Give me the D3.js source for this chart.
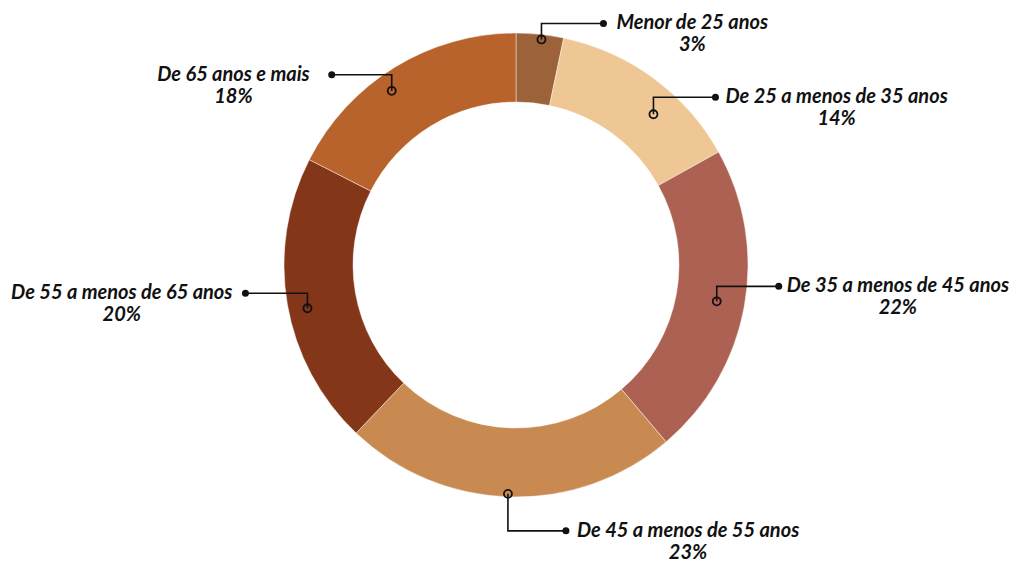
<!DOCTYPE html>
<html>
<head>
<meta charset="utf-8">
<script src="https://cdn.jsdelivr.net/npm/d3@7"></script>
<style>
  body { margin: 0; background: #fff; }
  svg text { font-family: Lato, "Open Sans", sans-serif; font-weight: 700; font-style: italic; font-size: 20px; fill: #111; }
</style>
</head>
<body>
<svg id="chart" width="1009" height="563"></svg>
<script>
// data
var categories = ["Menor de 25 anos", "De 25 a menos de 35 anos", "De 35 a menos de 45 anos",
                  "De 45 a menos de 55 anos", "De 55 a menos de 65 anos", "De 65 anos e mais"];
var shares = [3.3, 13.6, 21.9, 23.3, 20.4, 17.5];
var colors = ["#9c6239", "#eec794", "#ad6153", "#c98a52", "#843619", "#b8622c"];

// leader line layout: radius of the ring marker, angle nudge (deg), elbow height, side, arm, text gap
var anchorR = [227, 204, 204, 229, 213, 214];
var anchorNudge = [0.5, 6, 0, 0.4, -2, -4];
var elbow = [-16, -17, -15, 37, -15, -16];
var sides = [1, 1, 1, 1, -1, -1];
var arms = [62, 62, 62, 58, 62, 60];
var gaps = [13, 10, 8, 11, 13, 22];

var svg = d3.select("#chart"),
    cx = 516, cy = 265,
    outer = 232, inner = 163;

var pie = d3.pie().sort(null).value(function(d) { return d; });
var arc = d3.arc().innerRadius(inner).outerRadius(outer);
var arcs = pie(shares);

var g = svg.append("g").attr("transform", "translate(" + cx + "," + cy + ")");

g.selectAll("path")
  .data(arcs)
  .enter().append("path")
    .attr("d", arc)
    .attr("fill", function(d, i) { return colors[i]; })
    .attr("stroke", "rgba(255,255,255,0.45)")
    .attr("stroke-width", 1);

var labels = g.selectAll("g.lbl")
  .data(arcs)
  .enter().append("g")
    .attr("class", "lbl");

labels.each(function(d, i) {
  var sel = d3.select(this);
  var a = (d.startAngle + d.endAngle) / 2 + anchorNudge[i] * Math.PI / 180;
  var ax = Math.sin(a) * anchorR[i],
      ay = -Math.cos(a) * anchorR[i];
  var side = sides[i];
  var ey = ay + elbow[i];
  var dx = ax + side * arms[i];

  sel.append("path")
    .attr("d", "M" + ax + "," + ay + "V" + ey + "H" + dx)
    .attr("fill", "none")
    .attr("stroke", "#111")
    .attr("stroke-width", 1.6);

  sel.append("circle")
    .attr("cx", ax).attr("cy", ay).attr("r", 4)
    .attr("fill", "none")
    .attr("stroke", "#111")
    .attr("stroke-width", 1.8);

  sel.append("circle")
    .attr("cx", dx).attr("cy", ey).attr("r", 3.5)
    .attr("fill", "#111");

  var t1 = sel.append("text")
    .attr("x", dx + side * gaps[i])
    .attr("y", ey + 6)
    .attr("text-anchor", side > 0 ? "start" : "end")
    .text(categories[i]);
  var w = t1.node().getComputedTextLength();
  var mid = dx + side * (gaps[i] + w / 2);

  sel.append("text")
    .attr("x", mid)
    .attr("y", ey + 28)
    .attr("text-anchor", "middle")
    .text(Math.round(d.data) + "%");
});
</script>
</body>
</html>
